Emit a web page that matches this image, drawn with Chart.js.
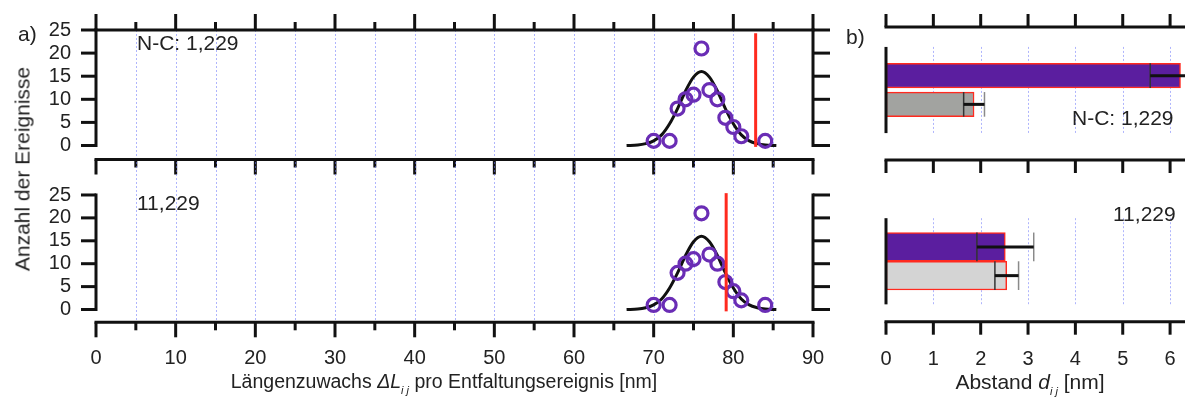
<!DOCTYPE html>
<html><head><meta charset="utf-8">
<script src="https://cdn.jsdelivr.net/npm/chart.js@4.4.1/dist/chart.umd.min.js"></script>
<style>
body{margin:0;background:#fff;width:1185px;height:400px;overflow:hidden;position:relative;font-family:"Liberation Sans",Arial,sans-serif;color:#222}
canvas{position:absolute}
.t{position:absolute;white-space:nowrap;font-size:21px;line-height:1;color:#222;transform:translate(-50%,-50%)}
.l{position:absolute;white-space:nowrap;font-size:21px;line-height:1;color:#222;transform:translateY(-50%)}
sub{font-size:11px;vertical-align:-6px}
</style></head><body>
<canvas id="c1" width="850" height="185" style="left:0;top:0"></canvas>
<canvas id="c2" width="850" height="250" style="left:0;top:150px"></canvas>
<canvas id="c3" width="335" height="185" style="left:850px;top:0"></canvas>
<canvas id="c4" width="335" height="215" style="left:850px;top:185px"></canvas>

<div class="l" style="left:18px;top:33px">a)</div>
<div class="l" style="left:846px;top:36px">b)</div>
<div class="l" style="left:137px;top:42px">N-C: 1,229</div>
<div class="l" style="left:137px;top:202px">11,229</div>
<div class="l" style="left:1072px;top:117px">N-C: 1,229</div>
<div class="l" style="left:1113px;top:213px">11,229</div>
<div class="t" style="left:22px;top:169px;transform:translate(-50%,-50%) rotate(-90deg)">Anzahl der Ereignisse</div>
<div class="t" style="left:444px;top:384px;font-size:19.5px">Längenzuwachs <i>ΔL</i><sub><i>i j</i></sub> pro Entfaltungsereignis [nm]</div>
<div class="t" style="left:1030px;top:384px">Abstand <i>d</i><sub><i>i j</i></sub> [nm]</div>

<script>
// ---- data ----
const lengthBins  = [70, 72, 73, 74, 75, 76, 77, 78, 79, 80, 81, 84];
const eventCounts = [1, 1, 8, 10, 11, 21, 12, 10, 6, 4, 2, 1];
const fitX = [66.6, 68, 69, 70, 71, 72, 73, 74, 75, 76, 77, 78, 79, 80, 81, 82, 83, 84, 85.4];
const fitY = [0, 0.1, 0.4, 1.0, 2.3, 4.7, 8.0, 11.8, 14.8, 16.0, 14.8, 11.8, 8.0, 4.7, 2.3, 1.0, 0.4, 0.1, 0];
const markerNC = [82.8, -0.3, 24.3];   // x, yFrom, yTo
const marker11 = [79.1, -0.4, 25.4];
const countTicks = [0, 5, 10, 15, 20, 25];
const lengthTicks = [0, 10, 20, 30, 40, 50, 60, 70, 80, 90];
const lengthMinor = [5, 15, 25, 35, 45, 55, 65, 75, 85];
const distTicks = [0, 1, 2, 3, 4, 5, 6];
const barIndex = [0, 1];
const distNC = [6.22, 1.86];
const errNC  = [0.64, 0.22];
const dist11 = [2.52, 2.55];
const err11  = [0.60, 0.25];

// ---- styles ----
const K = '#111';
const GRID = 'rgba(110,120,250,0.55)';
const PURPLE = '#6a2db5';
const RED = '#ff2a1f';
const BAR_PURPLE = '#5b1e9f';
const GRAY_DARK = '#a2a3a0';
const GRAY_LIGHT = '#d4d4d4';
const FONT = {family: '"Liberation Sans", Arial, sans-serif', size: 20};

function seg(ctx, x1, y1, x2, y2, w, c, dash) {
  ctx.save(); ctx.beginPath(); ctx.lineWidth = w; ctx.strokeStyle = c;
  if (dash) ctx.setLineDash(dash);
  ctx.moveTo(x1, y1); ctx.lineTo(x2, y2); ctx.stroke(); ctx.restore();
}
function noPad(s) { s.paddingTop = 0; s.paddingBottom = 0; s.paddingLeft = 0; s.paddingRight = 0; }

function leftDeco(hasTop) {
  return {
    id: 'ldeco',
    beforeDatasetsDraw(chart) {
      const {ctx, chartArea: a, scales: {x: xs}} = chart;
      [...lengthMinor, ...lengthTicks.slice(1, -1)].forEach(v => {
        const x = Math.round(xs.getPixelForValue(v)) + 0.5;
        seg(ctx, x, a.top, x, a.bottom, 1, GRID, [2, 2]);
      });
    },
    afterDraw(chart) {
      const {ctx, chartArea: a, scales: {x: xs, y: ys}} = chart;
      const L = a.left, R = a.right, B = a.bottom;
      const y0 = ys.getPixelForValue(0), y25 = ys.getPixelForValue(25);
      seg(ctx, L, y25 - 1.5, L, y0 + 1.5, 3, K);
      seg(ctx, R, y25 - 1.5, R, y0 + 1.5, 3, K);
      countTicks.forEach(v => {
        const y = ys.getPixelForValue(v);
        seg(ctx, L - 15, y, L, y, 3, K);
        seg(ctx, R, y, R + 17, y, 3, K);
      });
      seg(ctx, L - 1.5, B, R + 1.5, B, 3, K);
      lengthTicks.forEach(v => { const x = xs.getPixelForValue(v); seg(ctx, x, B, x, B + 15, 3, K); });
      lengthMinor.forEach(v => { const x = xs.getPixelForValue(v); seg(ctx, x, B, x, B + 8, 3, K); });
      if (hasTop) {
        const T = a.top;
        seg(ctx, L - 1.5, T, R + 1.5, T, 3, K);
        lengthTicks.forEach(v => { const x = xs.getPixelForValue(v); seg(ctx, x, T, x, T - 16, 3, K); });
        lengthMinor.forEach(v => { const x = xs.getPixelForValue(v); seg(ctx, x, T, x, T - 8, 3, K); });
      }
    }
  };
}

function rightDeco(hasTop, errs) {
  return {
    id: 'rdeco',
    beforeDatasetsDraw(chart) {
      const {ctx, scales: {x: xs, y: ys}} = chart;
      const g1 = ys.getPixelForValue(-1), g2 = ys.getPixelForValue(2);
      distTicks.slice(1).forEach(v => {
        const x = Math.round(xs.getPixelForValue(v)) + 0.5;
        seg(ctx, x, g1, x, g2, 1, GRID, [2, 2]);
      });
    },
    afterDatasetsDraw(chart) {
      const {ctx, scales: {x: xs}} = chart;
      const meta = chart.getDatasetMeta(0);
      const vals = chart.data.datasets[0].data;
      meta.data.forEach((bar, i) => {
        const v = vals[i].x, e = errs[i];
        const yc = bar.y, h = bar.height / 2;
        const x1 = xs.getPixelForValue(v - e), x2 = xs.getPixelForValue(v + e);
        seg(ctx, x1, yc - h, x1, yc + h, 1.5, '#333');
        seg(ctx, x2, yc - h, x2, yc + h, 1.5, '#8a8a8a');
        seg(ctx, x1, yc, x2, yc, 3, K);
      });
    },
    afterDraw(chart) {
      const {ctx, chartArea: a, scales: {x: xs, y: ys}} = chart;
      const L = a.left, R = a.right, B = a.bottom;
      seg(ctx, L, ys.getPixelForValue(-1), L, ys.getPixelForValue(2), 3, K);
      seg(ctx, L - 1.5, B, R, B, 3, K);
      distTicks.forEach(v => { const x = xs.getPixelForValue(v); seg(ctx, x, B, x, B + 13, 3, K); });
      if (hasTop) {
        const T = a.top;
        seg(ctx, L - 1.5, T, R, T, 3, K);
        distTicks.forEach(v => { const x = xs.getPixelForValue(v); seg(ctx, x, T, x, T - 13, 3, K); });
      }
    }
  };
}

function leftChart(id, marker, yMin, yMax, pad, showX, xHeight, xPad) {
  const pts = lengthBins.map((x, i) => ({x, y: eventCounts[i]}));
  const fit = fitX.map((x, i) => ({x, y: fitY[i]}));
  const red = [{x: marker[0], y: marker[1]}, {x: marker[0], y: marker[2]}];
  return new Chart(document.getElementById(id), {
    type: 'scatter',
    data: {datasets: [
      {data: red, showLine: true, borderColor: RED, borderWidth: 3, pointRadius: 0, clip: false},
      {data: pts, showLine: false, pointRadius: 6.5, pointBorderWidth: 3.2, borderColor: PURPLE,
       backgroundColor: 'rgba(0,0,0,0)', pointBackgroundColor: 'rgba(0,0,0,0)', pointBorderColor: PURPLE},
      {data: fit, showLine: true, borderColor: K, borderWidth: 3, pointRadius: 0, cubicInterpolationMode: 'monotone'}
    ]},
    options: {
      responsive: false, animation: false, events: [],
      layout: {padding: pad},
      plugins: {legend: {display: false}, tooltip: {enabled: false}},
      scales: {
        x: {type: 'linear', min: 0, max: 90, display: showX, position: 'bottom',
            afterFit: s => { s.height = xHeight; noPad(s); },
            afterBuildTicks: s => { s.ticks = lengthTicks.map(v => ({value: v})); },
            grid: {display: false, drawTicks: false}, border: {display: false},
            ticks: {font: FONT, color: '#222', padding: xPad, maxRotation: 0, autoSkip: false}},
        y: {type: 'linear', min: yMin, max: yMax, position: 'left',
            afterFit: s => { s.width = 96; noPad(s); },
            afterBuildTicks: s => { s.ticks = countTicks.map(v => ({value: v})); },
            grid: {display: false, drawTicks: false}, border: {display: false},
            ticks: {font: FONT, color: '#222', padding: 25, autoSkip: false}}
      }
    },
    plugins: [leftDeco(!showX)]
  });
}

leftChart('c1', markerNC, -3.03, 25, {top: 30, right: 37, bottom: 25.5, left: 0}, false, 0, 0);
leftChart('c2', marker11, -2.79, 32.2, {top: 12, right: 37, bottom: 0, left: 0}, true, 77.7, 23.7);

function rightChart(id, vals, errs, colors, yMin, yMax, pad, showX, xHeight) {
  return new Chart(document.getElementById(id), {
    type: 'bar',
    data: {datasets: [{
      data: barIndex.map((k, i) => ({x: vals[i], y: k})),
      backgroundColor: colors, borderColor: RED, borderWidth: 1.5, borderSkipped: false,
      barPercentage: 1, categoryPercentage: 1
    }]},
    options: {
      indexAxis: 'y', responsive: false, animation: false, events: [],
      layout: {padding: pad},
      plugins: {legend: {display: false}, tooltip: {enabled: false}},
      scales: {
        x: {type: 'linear', min: 0, max: 6.315, display: showX, position: 'bottom',
            afterFit: s => { s.height = xHeight; noPad(s); },
            afterBuildTicks: s => { s.ticks = distTicks.map(v => ({value: v})); },
            grid: {display: false, drawTicks: false}, border: {display: false},
            ticks: {font: FONT, color: '#222', padding: 25.3, maxRotation: 0, autoSkip: false}},
        y: {type: 'linear', min: yMin, max: yMax, reverse: true, display: false}
      }
    },
    plugins: [rightDeco(!showX, errs)]
  });
}

rightChart('c3', distNC, errNC, [BAR_PURPLE, GRAY_DARK], -1.115, 2.358, {top: 27, right: 0, bottom: 25, left: 36}, false, 0);
rightChart('c4', dist11, err11, [BAR_PURPLE, GRAY_LIGHT], -1.0, 2.089, {top: 18.4, right: 0, bottom: 0, left: 36}, true, 78.3);
</script>
</body></html>
